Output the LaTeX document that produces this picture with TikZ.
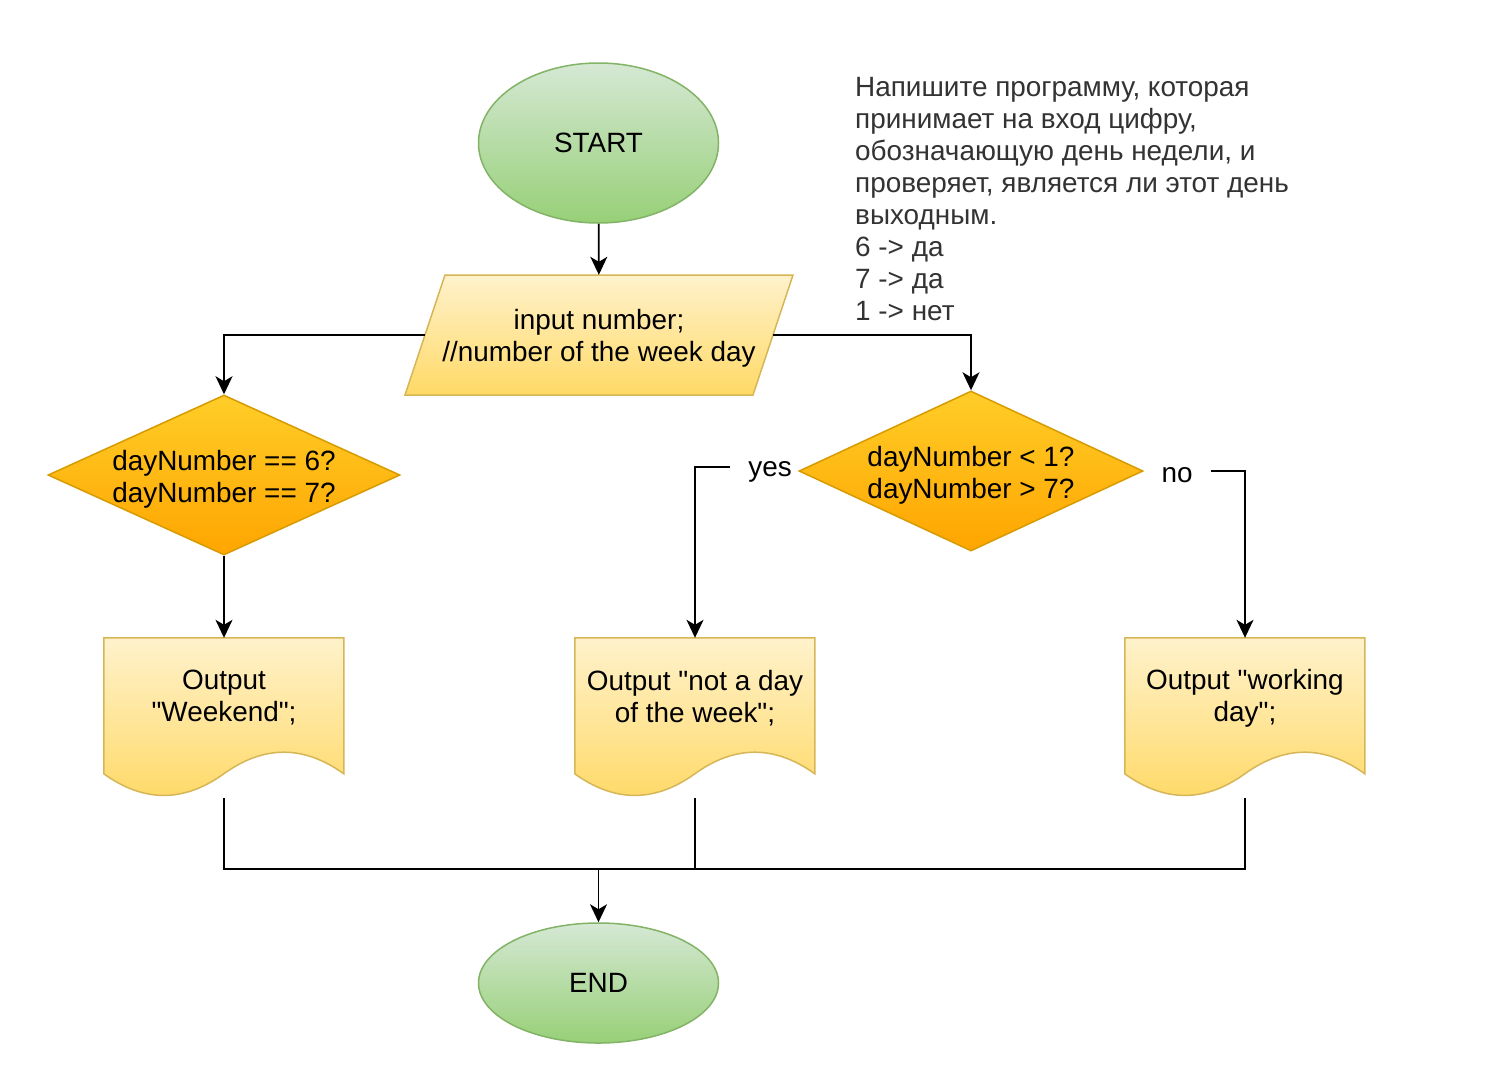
\documentclass[tikz,border=0pt]{standalone}
\usepackage{fontspec}
\setmainfont{Liberation Sans}[Ligatures=TeXOff]
\usetikzlibrary{shapes.geometric,arrows.meta}
\definecolor{gtop}{HTML}{D5E8D4}
\definecolor{gbot}{HTML}{97D077}
\definecolor{gstroke}{HTML}{82B366}
\definecolor{ytop}{HTML}{FFF2CC}
\definecolor{ybot}{HTML}{FFD966}
\definecolor{ystroke}{HTML}{D6B656}
\definecolor{otop}{HTML}{FFCD28}
\definecolor{obot}{HTML}{FFA500}
\definecolor{ostroke}{HTML}{D79B00}
\definecolor{notecol}{HTML}{333333}
\tikzset{
  every node/.style={font=\fontsize{27.9}{32}\selectfont},
  term/.style={ellipse, draw=gstroke, line width=1.5pt, top color=gtop, bottom color=gbot,
    minimum width=240pt, minimum height=#1, inner sep=0pt},
  decision/.style={diamond, draw=ostroke, line width=1.5pt, top color=otop, bottom color=obot,
    minimum width=#1, minimum height=160pt, inner sep=0pt},
  holder/.style={rectangle, minimum width=#1, inner sep=0pt},
  yfill/.style={draw=ystroke, line width=1.5pt, top color=ytop, bottom color=ybot},
  txt/.style={align=center, inner sep=0pt},
  edge/.style={line width=1.7pt, black},
  arr/.style={edge, -{Stealth[length=18pt,width=17pt,inset=5pt]}},
  lbl/.style={inner xsep=18pt, inner ysep=0pt, anchor=base},
  docpic/.pic={\path[yfill] (0,0) -- (240,0) -- (240,136)
     .. controls (200,107.2) and (160,107.2) .. (120,136)
     .. controls (80,164.8) and (40,164.8) .. (0,136) -- cycle;}
}
\begin{document}
\begin{tikzpicture}[x=1pt,y=-1pt]
\fill[white] (0,0) rectangle (1498,1088);
\useasboundingbox (0,0) rectangle (1498,1088);

% start / end
\node[term=160pt] (start) at (598.5,143) {START};
\node[term=120pt] (end) at (598.5,983) {END};

% input parallelogram
\node[holder=348pt, minimum height=120pt] (inp) at (599,335) {};
\path[yfill] ([shift={(-154,-60)}]inp.center) -- ([shift={(194,-60)}]inp.center)
  -- ([shift={(154,60)}]inp.center) -- ([shift={(-194,60)}]inp.center) -- cycle;
\node[txt] (inpt) at (599,338) {input number;\\//number of the week day};

% decisions
\node[decision=352pt] (d1) at (224,475) {};
\node[txt] (d1t) at (224,479) {dayNumber == 6?\\dayNumber == 7?};
\node[decision=344pt] (d2) at (971,471) {};
\node[txt] (d2t) at (971,475) {dayNumber {\textless} 1?\\dayNumber {\textgreater} 7?};

% documents
\node[holder=240pt, minimum height=160pt] (doc1) at (224,718) {};
\node[holder=240pt, minimum height=160pt] (doc2) at (695,718) {};
\node[holder=240pt, minimum height=160pt] (doc3) at (1245,718) {};
\pic at (doc1.north west) {docpic};
\pic at (doc2.north west) {docpic};
\pic at (doc3.north west) {docpic};
\node[txt] (doc1t) at (224,698) {Output\\"Weekend";};
\node[txt] (doc2t) at (695,698) {Output "not a day\\of the week";};
\node[txt] (doc3t) at (1245,698) {Output "working\\day";};

% note
\node[anchor=base west, align=left, inner sep=0pt, text=notecol] (note) at (855,320)
 {Напишите программу, которая\\принимает на вход цифру,\\обозначающую день недели, и\\проверяет, является ли этот день\\выходным.\\6 -> да\\7 -> да\\1 -> нет};

% labels
\node[lbl] (yes) at (770,476) {yes};
\node[lbl] (no) at (1177,482) {no};

% connectors
\draw[arr] (start) -- (inp);
\draw[arr] (inp.west) -| (d1.north);
\draw[arr] (inp.east) -| (d2.north);
\draw[arr] (d1.south) -- (doc1.north);
\draw[arr] ([yshift=4pt]yes.west |- d2) -| (doc2.north);
\draw[arr] (no.east |- d2) -| (doc3.north);
\coordinate (j) at (598.5,869);
\draw[edge] (doc1.south) |- (doc3.south |- j) -- (doc3.south);
\draw[edge] (doc2.south) -- (doc2.south |- j);
\draw[arr] (j) -- (end.north);
\end{tikzpicture}
\end{document}
